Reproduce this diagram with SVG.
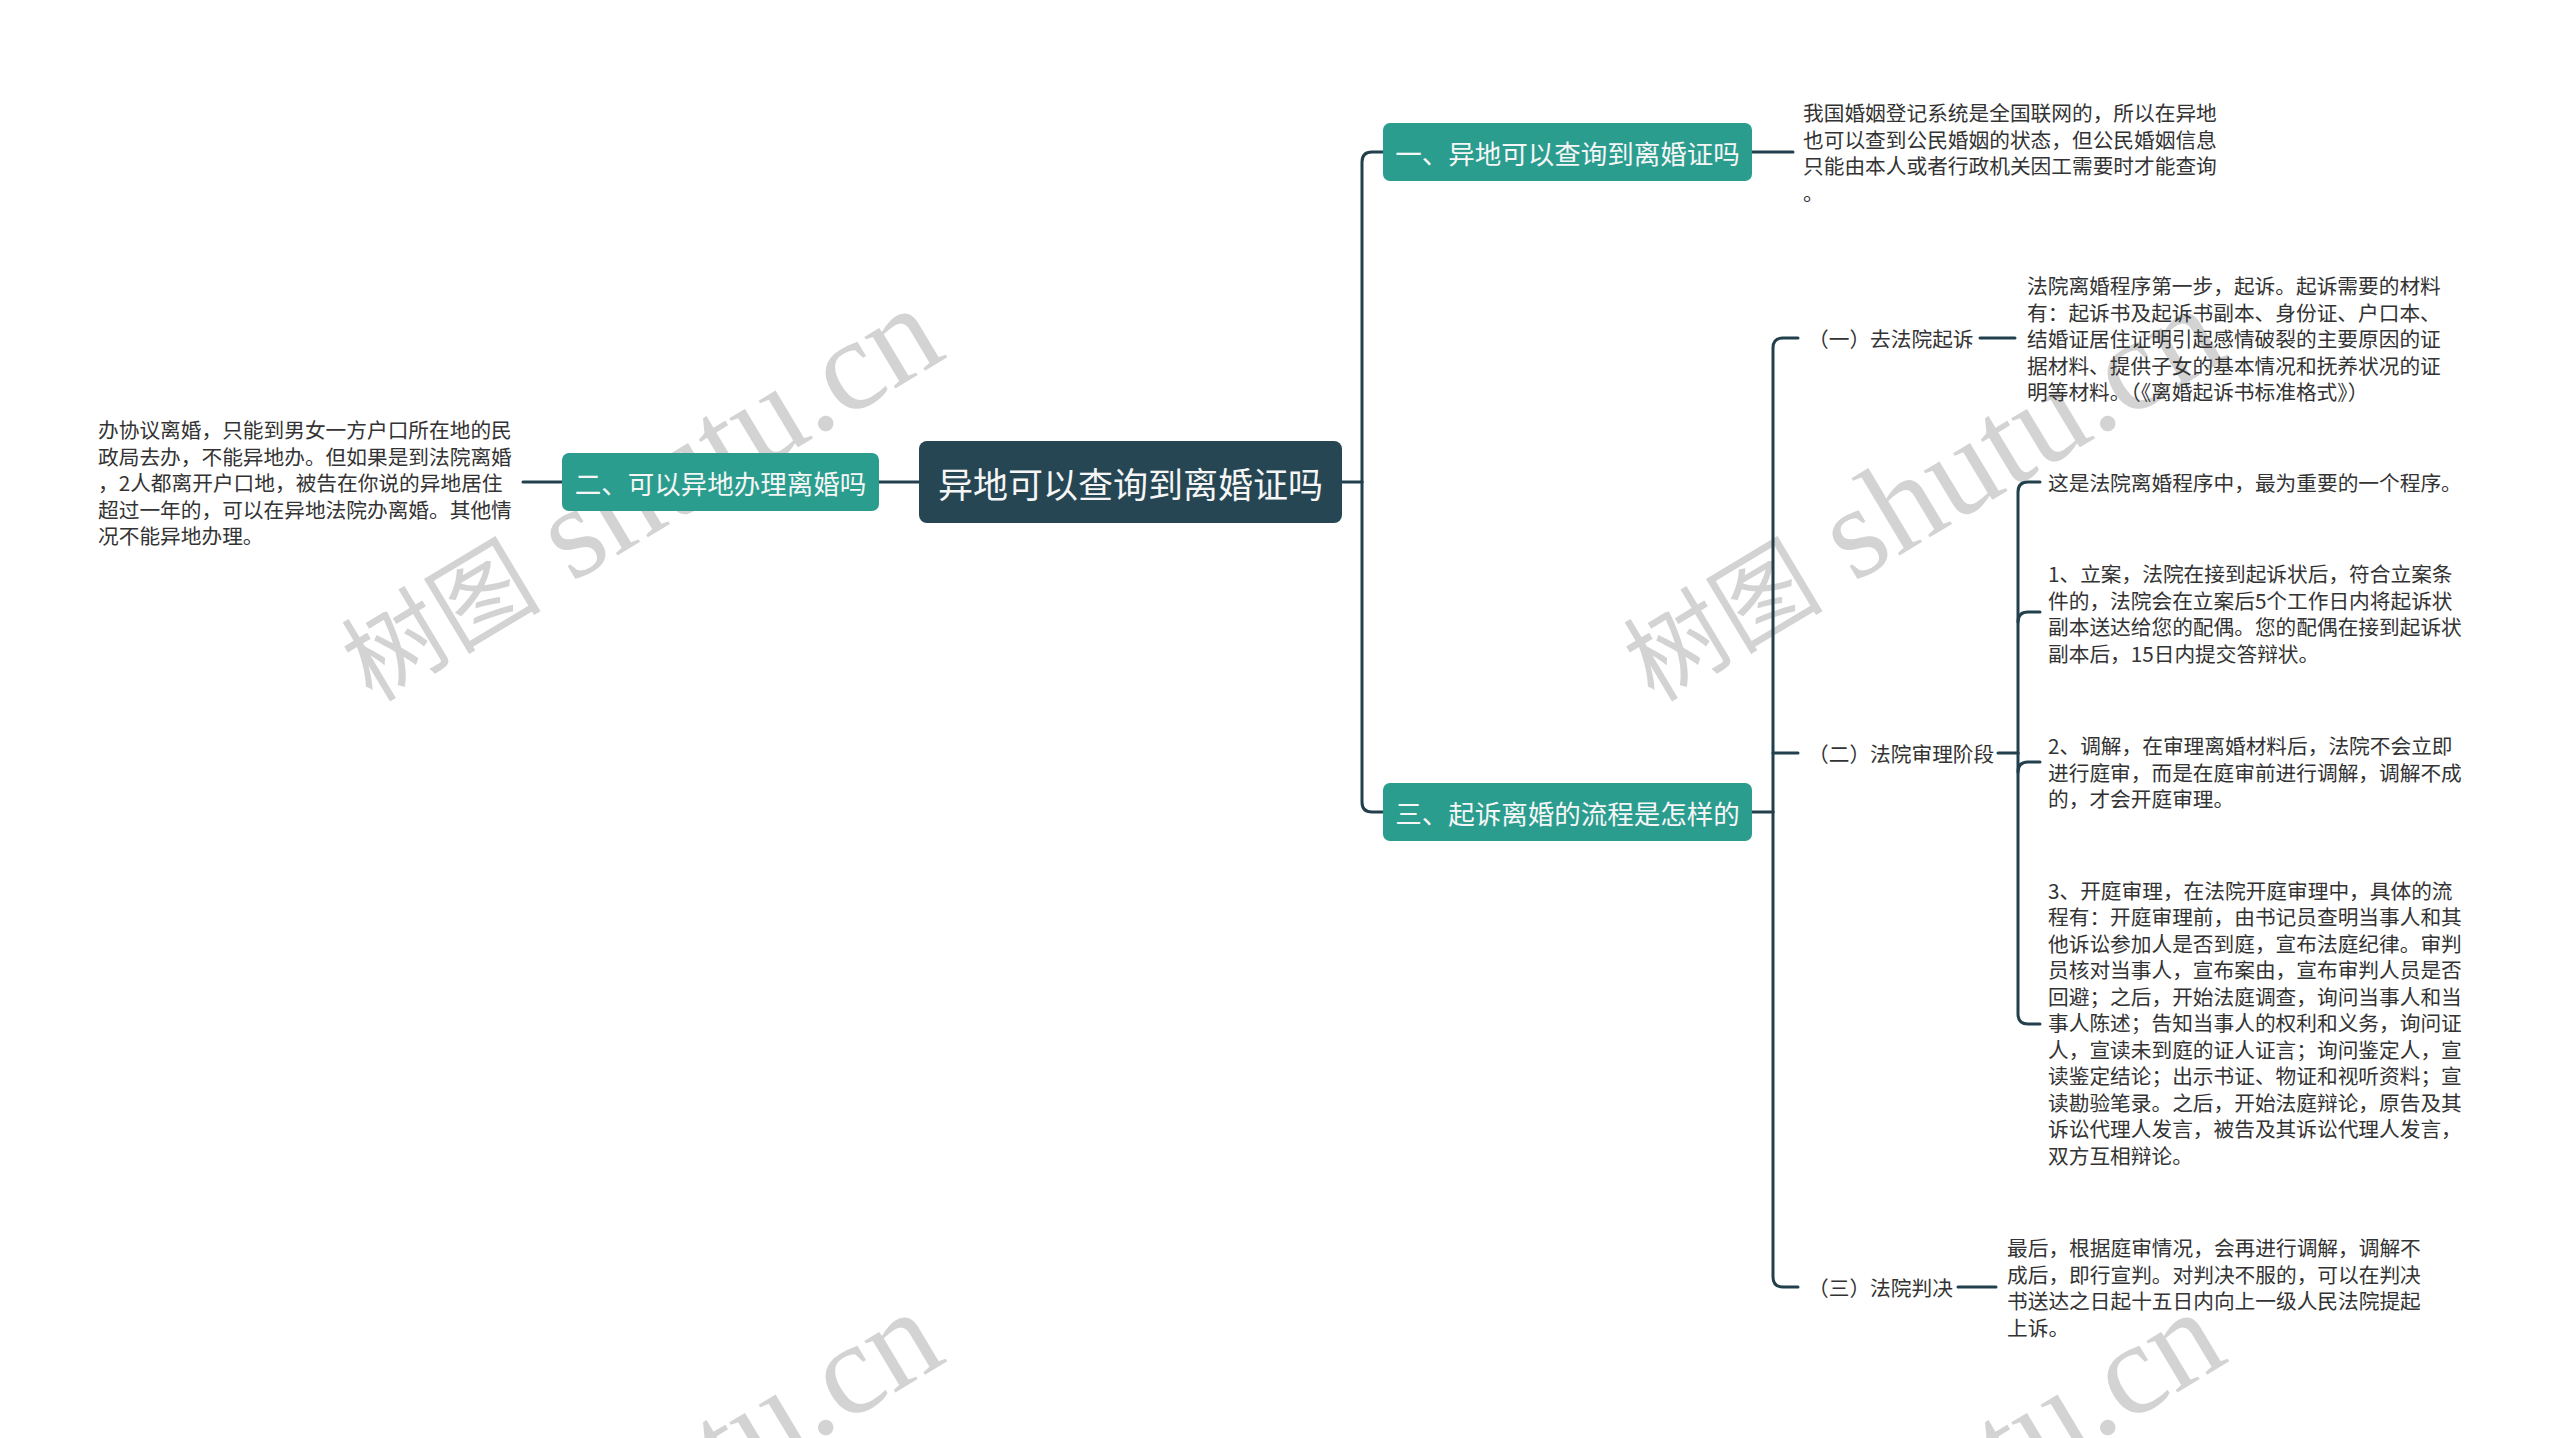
<svg xmlns="http://www.w3.org/2000/svg" width="2560" height="1438" viewBox="0 0 2560 1438">
<style>
.wm{fill:#d3d3d3;font-family:"Liberation Serif","Noto Sans CJK SC",serif}
.ln{fill:none;stroke:#223f4c;stroke-width:3;stroke-linecap:round}
.t{font-family:"Noto Sans CJK SC","Microsoft YaHei",sans-serif;font-size:20.7px;fill:#333;dominant-baseline:central}
.nt{font-family:"Noto Sans CJK SC",sans-serif;fill:#f6f6f6;dominant-baseline:central;text-anchor:middle}
.teal{fill:#2a9d8f}
</style>
<rect width="2560" height="1438" fill="#fff"/>
<g id="watermarks">
<text class="wm" transform="translate(372,703) rotate(-31)"><tspan font-size="100">树图</tspan><tspan font-size="131"> shutu.cn</tspan></text>
<text class="wm" transform="translate(1654,703) rotate(-31)"><tspan font-size="100">树图</tspan><tspan font-size="131"> shutu.cn</tspan></text>
<text class="wm" transform="translate(372,1707) rotate(-31)"><tspan font-size="100">树图</tspan><tspan font-size="131"> shutu.cn</tspan></text>
<text class="wm" transform="translate(1654,1707) rotate(-31)"><tspan font-size="100">树图</tspan><tspan font-size="131"> shutu.cn</tspan></text>
</g>
<g id="connectors">
<path class="ln" d="M1342 482 H1362"/>
<path class="ln" d="M1362 482 V162 Q1362 152 1372 152 H1383"/>
<path class="ln" d="M1362 482 V802 Q1362 812 1372 812 H1383"/>
<path class="ln" d="M919 482 H879"/>
<path class="ln" d="M562 482 H523"/>
<path class="ln" d="M1752 152 H1793"/>
<path class="ln" d="M1752 812 H1773"/>
<path class="ln" d="M1773 812 V348 Q1773 338 1783 338 H1798"/>
<path class="ln" d="M1773 812 V1277 Q1773 1287 1783 1287 H1798"/>
<path class="ln" d="M1773 753 H1798"/>
<path class="ln" d="M1980 338 H2015"/>
<path class="ln" d="M1998 753 H2018"/>
<path class="ln" d="M2018 753 V492 Q2018 482 2028 482 H2040"/>
<path class="ln" d="M2018 753 V1014 Q2018 1024 2028 1024 H2040"/>
<path class="ln" d="M2018 622 Q2018 612 2028 612 H2040"/>
<path class="ln" d="M2018 772 Q2018 762 2028 762 H2040"/>
<path class="ln" d="M1958 1287 H1996"/>
</g>
<g id="root">
<rect x="919" y="441" width="423" height="82" rx="8" fill="#264653"/>
<text class="nt" x="1130.5" y="482" font-size="35">异地可以查询到离婚证吗</text>
</g>
<g id="n2">
<rect class="teal" x="562" y="453" width="317" height="58" rx="7"/>
<text class="nt" x="720.5" y="482" font-size="26.5">二、可以异地办理离婚吗</text>
</g>
<g id="n2-detail">
<text class="t" x="98" y="429">办协议离婚，只能到男女一方户口所在地的民</text>
<text class="t" x="98" y="455.5">政局去办，不能异地办。但如果是到法院离婚</text>
<text class="t" x="98" y="482">，2人都离开户口地，被告在你说的异地居住</text>
<text class="t" x="98" y="508.5">超过一年的，可以在异地法院办离婚。其他情</text>
<text class="t" x="98" y="535">况不能异地办理。</text>
</g>
<g id="n1">
<rect class="teal" x="1383" y="123" width="369" height="58" rx="7"/>
<text class="nt" x="1567.5" y="152" font-size="26.5">一、异地可以查询到离婚证吗</text>
</g>
<g id="n1-detail">
<text class="t" x="1803" y="112.25">我国婚姻登记系统是全国联网的，所以在异地</text>
<text class="t" x="1803" y="138.75">也可以查到公民婚姻的状态，但公民婚姻信息</text>
<text class="t" x="1803" y="165.25">只能由本人或者行政机关因工需要时才能查询</text>
<text class="t" x="1803" y="191.75">。</text>
</g>
<g id="n3">
<rect class="teal" x="1383" y="783" width="369" height="58" rx="7"/>
<text class="nt" x="1567.5" y="812" font-size="26.5">三、起诉离婚的流程是怎样的</text>
</g>
<g id="n3-1">
<text class="t" x="1808" y="338">（一）去法院起诉</text>
</g>
<g id="n3-1-detail">
<text class="t" x="2027" y="285">法院离婚程序第一步，起诉。起诉需要的材料</text>
<text class="t" x="2027" y="311.5">有：起诉书及起诉书副本、身份证、户口本、</text>
<text class="t" x="2027" y="338">结婚证居住证明引起感情破裂的主要原因的证</text>
<text class="t" x="2027" y="364.5">据材料、提供子女的基本情况和抚养状况的证</text>
<text class="t" x="2027" y="391">明等材料。（《离婚起诉书标准格式》）</text>
</g>
<g id="n3-2">
<text class="t" x="1808" y="753">（二）法院审理阶段</text>
</g>
<g id="n3-2-a">
<text class="t" x="2048" y="482">这是法院离婚程序中，最为重要的一个程序。</text>
</g>
<g id="n3-2-b">
<text class="t" x="2048" y="573.25">1、立案，法院在接到起诉状后，符合立案条</text>
<text class="t" x="2048" y="599.75">件的，法院会在立案后5个工作日内将起诉状</text>
<text class="t" x="2048" y="626.25">副本送达给您的配偶。您的配偶在接到起诉状</text>
<text class="t" x="2048" y="652.75">副本后，15日内提交答辩状。</text>
</g>
<g id="n3-2-c">
<text class="t" x="2048" y="745">2、调解，在审理离婚材料后，法院不会立即</text>
<text class="t" x="2048" y="771.5">进行庭审，而是在庭审前进行调解，调解不成</text>
<text class="t" x="2048" y="798">的，才会开庭审理。</text>
</g>
<g id="n3-2-d">
<text class="t" x="2048" y="889.5">3、开庭审理，在法院开庭审理中，具体的流</text>
<text class="t" x="2048" y="916">程有：开庭审理前，由书记员查明当事人和其</text>
<text class="t" x="2048" y="942.5">他诉讼参加人是否到庭，宣布法庭纪律。审判</text>
<text class="t" x="2048" y="969">员核对当事人，宣布案由，宣布审判人员是否</text>
<text class="t" x="2048" y="995.5">回避；之后，开始法庭调查，询问当事人和当</text>
<text class="t" x="2048" y="1022">事人陈述；告知当事人的权利和义务，询问证</text>
<text class="t" x="2048" y="1048.5">人，宣读未到庭的证人证言；询问鉴定人，宣</text>
<text class="t" x="2048" y="1075">读鉴定结论；出示书证、物证和视听资料；宣</text>
<text class="t" x="2048" y="1101.5">读勘验笔录。之后，开始法庭辩论，原告及其</text>
<text class="t" x="2048" y="1128">诉讼代理人发言，被告及其诉讼代理人发言，</text>
<text class="t" x="2048" y="1154.5">双方互相辩论。</text>
</g>
<g id="n3-3">
<text class="t" x="1808" y="1287">（三）法院判决</text>
</g>
<g id="n3-3-detail">
<text class="t" x="2007" y="1247.25">最后，根据庭审情况，会再进行调解，调解不</text>
<text class="t" x="2007" y="1273.75">成后，即行宣判。对判决不服的，可以在判决</text>
<text class="t" x="2007" y="1300.25">书送达之日起十五日内向上一级人民法院提起</text>
<text class="t" x="2007" y="1326.75">上诉。</text>
</g>
</svg>
